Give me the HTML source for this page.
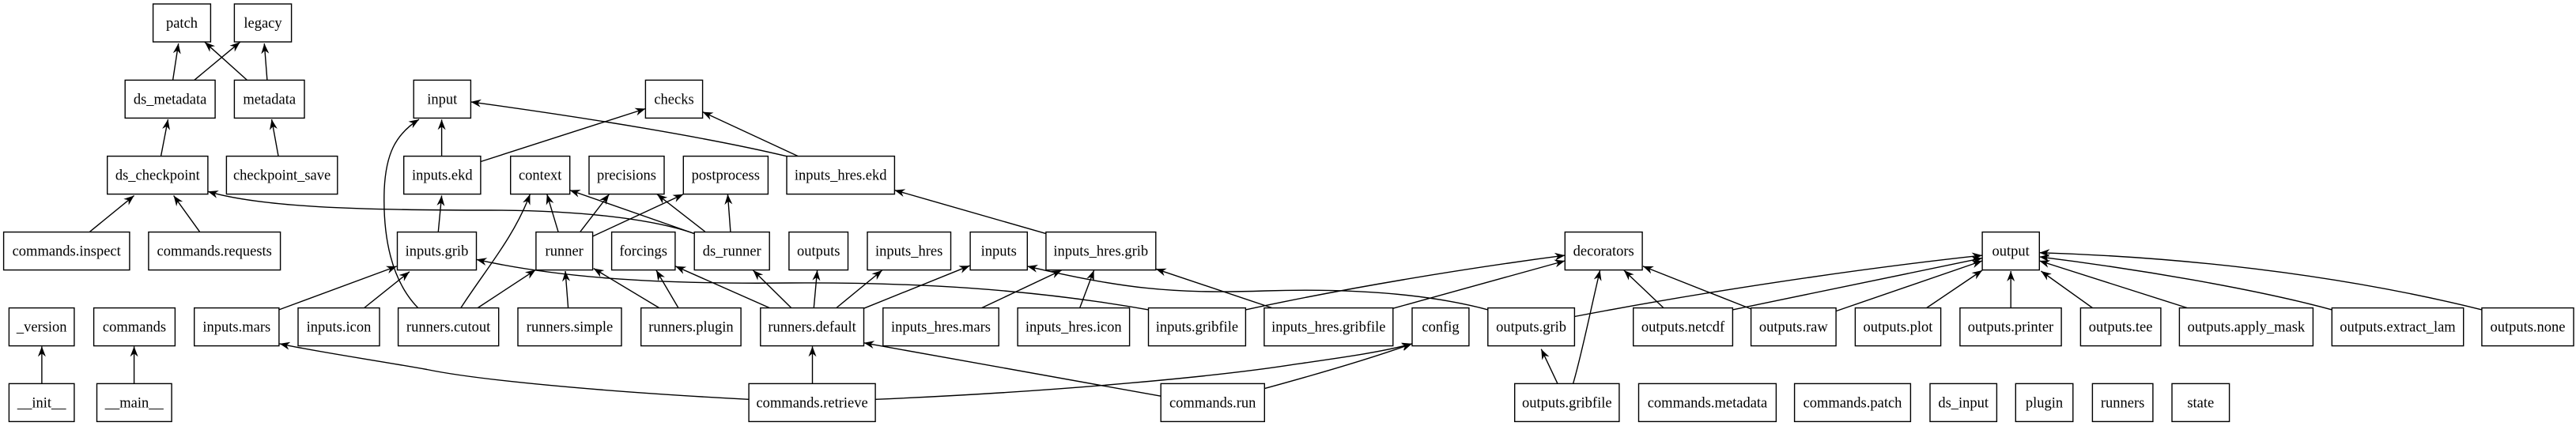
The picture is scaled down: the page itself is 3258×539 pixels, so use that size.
<!DOCTYPE html>
<html><head><meta charset="utf-8"><style>
html,body{margin:0;padding:0;background:#fff;}
svg{display:block;}
text{font-family:"Liberation Serif",serif;font-size:18.5px;fill:#000;text-anchor:middle;}
rect{fill:#fff;stroke:#000;stroke-width:1.4;}
path.e{fill:none;stroke:#000;stroke-width:1.4;marker-end:url(#a);}
</style></head><body>
<svg width="3258" height="539" viewBox="0 0 3258 539" xmlns="http://www.w3.org/2000/svg">
<defs><marker id="a" markerUnits="userSpaceOnUse" markerWidth="14" markerHeight="10" refX="13" refY="5" orient="auto"><path d="M0,0 L13,5 L0,10 L4,5 z" fill="#000"/></marker></defs>
<g>
<path class="e" d="M218.6,101.4 L225.7,55"/>
<path class="e" d="M245.7,101.4 L303.6,53.3"/>
<path class="e" d="M312.5,101.4 L259,53.3"/>
<path class="e" d="M337.9,101.4 L334.3,55"/>
<path class="e" d="M203.6,197.3 L212.5,151"/>
<path class="e" d="M352,197.3 L343.6,151"/>
<path class="e" d="M113.6,293.2 L169.6,247.5"/>
<path class="e" d="M252.5,293.2 L219.6,247.5"/>
<path class="e" d="M52.9,485.4 L52.9,438.3"/>
<path class="e" d="M169.6,485.4 L169.6,438.3"/>
<path class="e" d="M352.9,391.9 L501.8,336.9"/>
<path class="e" d="M460.7,389.5 L517.9,343.8"/>
<path class="e" d="M528.6,389.5 C495,355 484,300 486,240 C488,195 500,170 530,151"/>
<path class="e" d="M878.2,295.6 C820,275 720,266 620,266 C450,266 330,262 262.9,242.3"/>
<path class="e" d="M947.1,505.3 C750,495 600,480 540,467.5 C470,455 400,445 353.6,434.9"/>
<path class="e" d="M554.3,293.2 L558.6,247.5"/>
<path class="e" d="M558.6,197.3 L558.6,151.3"/>
<path class="e" d="M607.9,204.5 L816.4,137.5"/>
<path class="e" d="M995,197.7 C900,175 750,150 595.4,128.9"/>
<path class="e" d="M1009.6,197.7 L888.6,141.6"/>
<path class="e" d="M582.9,389.5 C615,340 650,300 670.4,245.8"/>
<path class="e" d="M604.3,389.5 L677.5,341.4"/>
<path class="e" d="M706,293.2 L691.8,245.8"/>
<path class="e" d="M733.9,293.2 L770.4,245.8"/>
<path class="e" d="M749.6,299 L864.3,245.8"/>
<path class="e" d="M878.2,295.6 L720.7,240.6"/>
<path class="e" d="M891.8,293.2 L831,245.8"/>
<path class="e" d="M923.9,293.2 L920.4,245.8"/>
<path class="e" d="M718.6,389.5 L715,343"/>
<path class="e" d="M833.6,389.5 L750.7,339.6"/>
<path class="e" d="M857.9,389.5 L830,342"/>
<path class="e" d="M973.2,389.5 L854.3,336.9"/>
<path class="e" d="M1000.7,389.5 L952.5,342"/>
<path class="e" d="M1029.3,389.5 L1033.6,342"/>
<path class="e" d="M1057.9,389.5 L1115.7,342"/>
<path class="e" d="M1092.5,390.2 L1226.4,336.2"/>
<path class="e" d="M1452.5,391.9 C1300,365 1150,357 1000,358 C820,360 700,350 602.5,328.3"/>
<path class="e" d="M1027.5,485.4 L1027.5,438.3"/>
<path class="e" d="M1322.9,295.6 L1131.4,240.6"/>
<path class="e" d="M1241.8,389.5 L1342.5,342"/>
<path class="e" d="M1365.7,389.5 L1383.6,342"/>
<path class="e" d="M1608.6,389.5 L1461.8,340.3"/>
<path class="e" d="M1468.2,501.2 L1092.5,433.8"/>
<path class="e" d="M1881.8,391.9 C1800,370 1700,365 1600,368 C1480,372 1420,365 1299.3,336.9"/>
<path class="e" d="M1107.1,505.3 C1350,495 1550,475 1640,460.6 C1700,452 1750,445 1786,434.9"/>
<path class="e" d="M1599.3,491.6 C1660,475 1730,455 1786,434.9"/>
<path class="e" d="M1575.4,391.9 C1700,365 1850,340 1979.3,323.1"/>
<path class="e" d="M1761.8,390.2 L1979.3,330"/>
<path class="e" d="M1970,485.4 L1949.3,441.7"/>
<path class="e" d="M1989.6,485.4 C2000,450 2010,400 2023.6,342"/>
<path class="e" d="M2103.9,389.5 L2053.9,342"/>
<path class="e" d="M2214.6,390.9 L2077.9,336.9"/>
<path class="e" d="M1991.4,400.5 C2150,370 2350,340 2507.1,323.1"/>
<path class="e" d="M2191.4,391.9 L2507.1,326.6"/>
<path class="e" d="M2322.1,393.6 L2507.1,330"/>
<path class="e" d="M2436.8,389.5 L2507.1,342"/>
<path class="e" d="M2543.2,389.5 L2543.2,343"/>
<path class="e" d="M2646.4,389.5 L2581.4,343"/>
<path class="e" d="M2766.1,389.5 L2579.3,330"/>
<path class="e" d="M2949.3,391.9 C2850,365 2700,340 2579.3,324.9"/>
<path class="e" d="M3138.9,391.9 C2950,345 2750,325 2579.3,319.7"/>
</g>
<g>
<rect x="193.6" y="5" width="72.8" height="48"/><text x="230" y="35">patch</text>
<rect x="296.4" y="5" width="72.2" height="48"/><text x="332.5" y="35">legacy</text>
<rect x="158.2" y="101.4" width="113.9" height="48"/><text x="215.1" y="131.4">ds_metadata</text>
<rect x="296.4" y="101.4" width="88.6" height="48"/><text x="340.7" y="131.4">metadata</text>
<rect x="135.7" y="197.6" width="127.2" height="48"/><text x="199.3" y="227.6">ds_checkpoint</text>
<rect x="286.4" y="197.6" width="140.4" height="48"/><text x="356.6" y="227.6">checkpoint_save</text>
<rect x="4.6" y="293.6" width="159.3" height="48"/><text x="84.2" y="323.6">commands.inspect</text>
<rect x="187.9" y="293.6" width="166.7" height="48"/><text x="271.2" y="323.6">commands.requests</text>
<rect x="11.4" y="389.6" width="82.5" height="48"/><text x="52.7" y="419.6">_version</text>
<rect x="118.6" y="389.6" width="102.8" height="48"/><text x="170" y="419.6">commands</text>
<rect x="11.4" y="485.4" width="82.5" height="48"/><text x="52.7" y="515.4">__init__</text>
<rect x="122.5" y="485.4" width="94.6" height="48"/><text x="169.8" y="515.4">__main__</text>
<rect x="245.7" y="389.6" width="107.2" height="48"/><text x="299.3" y="419.6">inputs.mars</text>
<rect x="377" y="389.6" width="103" height="48"/><text x="428.5" y="419.6">inputs.icon</text>
<rect x="523.2" y="101.4" width="72.2" height="48"/><text x="559.3" y="131.4">input</text>
<rect x="510.7" y="197.6" width="97.2" height="48"/><text x="559.3" y="227.6">inputs.ekd</text>
<rect x="502.5" y="293.6" width="100" height="48"/><text x="552.5" y="323.6">inputs.grib</text>
<rect x="503.6" y="389.6" width="127.1" height="48"/><text x="567.1" y="419.6">runners.cutout</text>
<rect x="816.4" y="101.4" width="72.2" height="48"/><text x="852.5" y="131.4">checks</text>
<rect x="645.7" y="197.6" width="75" height="48"/><text x="683.2" y="227.6">context</text>
<rect x="745" y="197.6" width="95" height="48"/><text x="792.5" y="227.6">precisions</text>
<rect x="864.3" y="197.6" width="107.1" height="48"/><text x="917.8" y="227.6">postprocess</text>
<rect x="995" y="197.6" width="136.4" height="48"/><text x="1063.2" y="227.6">inputs_hres.ekd</text>
<rect x="677.9" y="293.6" width="71.7" height="48"/><text x="713.7" y="323.6">runner</text>
<rect x="773.6" y="293.6" width="80.3" height="48"/><text x="813.7" y="323.6">forcings</text>
<rect x="878.2" y="293.6" width="95" height="48"/><text x="925.7" y="323.6">ds_runner</text>
<rect x="997.9" y="293.6" width="74.6" height="48"/><text x="1035.2" y="323.6">outputs</text>
<rect x="1097" y="293.6" width="105.5" height="48"/><text x="1149.7" y="323.6">inputs_hres</text>
<rect x="1227.1" y="293.6" width="72.2" height="48"/><text x="1263.2" y="323.6">inputs</text>
<rect x="1322.9" y="293.6" width="138.9" height="48"/><text x="1392.3" y="323.6">inputs_hres.grib</text>
<rect x="1979.3" y="293.6" width="97.8" height="48"/><text x="2028.2" y="323.6">decorators</text>
<rect x="2507.1" y="293.6" width="72.2" height="48"/><text x="2543.2" y="323.6">output</text>
<rect x="655" y="389.6" width="131" height="48"/><text x="720.5" y="419.6">runners.simple</text>
<rect x="810.7" y="389.6" width="126.4" height="48"/><text x="873.9" y="419.6">runners.plugin</text>
<rect x="961.8" y="389.6" width="130.7" height="48"/><text x="1027.1" y="419.6">runners.default</text>
<rect x="1116.8" y="389.6" width="146.4" height="48"/><text x="1190" y="419.6">inputs_hres.mars</text>
<rect x="1287.1" y="389.6" width="141.5" height="48"/><text x="1357.8" y="419.6">inputs_hres.icon</text>
<rect x="1452.5" y="389.6" width="122.9" height="48"/><text x="1513.9" y="419.6">inputs.gribfile</text>
<rect x="1598.9" y="389.6" width="162.9" height="48"/><text x="1680.3" y="419.6">inputs_hres.gribfile</text>
<rect x="1786" y="389.6" width="71.9" height="48"/><text x="1822" y="419.6">config</text>
<rect x="1881.8" y="389.6" width="109.6" height="48"/><text x="1936.6" y="419.6">outputs.grib</text>
<rect x="2065.7" y="389.6" width="125.7" height="48"/><text x="2128.5" y="419.6">outputs.netcdf</text>
<rect x="2214.6" y="389.6" width="107.5" height="48"/><text x="2268.3" y="419.6">outputs.raw</text>
<rect x="2346.4" y="389.6" width="108.2" height="48"/><text x="2400.5" y="419.6">outputs.plot</text>
<rect x="2478.9" y="389.6" width="128.2" height="48"/><text x="2543" y="419.6">outputs.printer</text>
<rect x="2631.4" y="389.6" width="101.5" height="48"/><text x="2682.1" y="419.6">outputs.tee</text>
<rect x="2756.4" y="389.6" width="169" height="48"/><text x="2840.9" y="419.6">outputs.apply_mask</text>
<rect x="2949.3" y="389.6" width="166.4" height="48"/><text x="3032.5" y="419.6">outputs.extract_lam</text>
<rect x="3138.9" y="389.6" width="116.1" height="48"/><text x="3197" y="419.6">outputs.none</text>
<rect x="947.1" y="485.4" width="160" height="48"/><text x="1027.1" y="515.4">commands.retrieve</text>
<rect x="1468.2" y="485.4" width="131.1" height="48"/><text x="1533.7" y="515.4">commands.run</text>
<rect x="1915.7" y="485.4" width="132.2" height="48"/><text x="1981.8" y="515.4">outputs.gribfile</text>
<rect x="2072.5" y="485.4" width="173.9" height="48"/><text x="2159.5" y="515.4">commands.metadata</text>
<rect x="2269.6" y="485.4" width="146.8" height="48"/><text x="2343" y="515.4">commands.patch</text>
<rect x="2441" y="485.4" width="84.4" height="48"/><text x="2483.2" y="515.4">ds_input</text>
<rect x="2549.3" y="485.4" width="72.5" height="48"/><text x="2585.5" y="515.4">plugin</text>
<rect x="2646.4" y="485.4" width="76.5" height="48"/><text x="2684.6" y="515.4">runners</text>
<rect x="2747" y="485.4" width="72.6" height="48"/><text x="2783.3" y="515.4">state</text>
</g>
</svg>
</body></html>
